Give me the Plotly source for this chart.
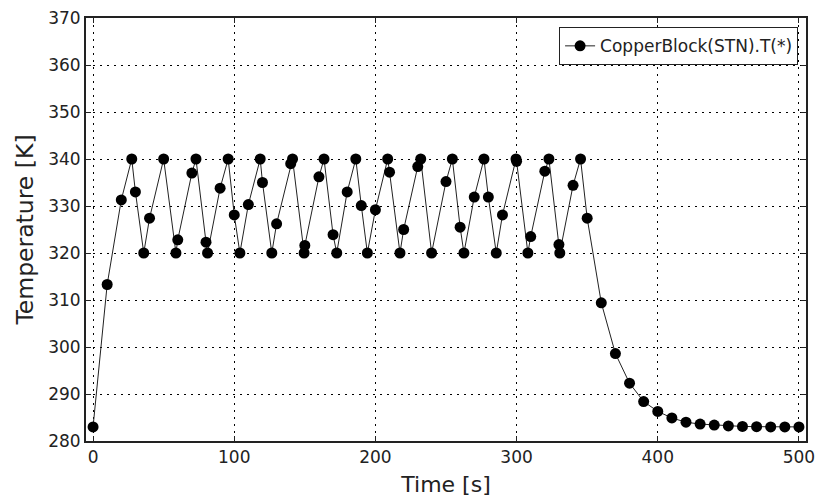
import plotly.graph_objects as go

# Data
time_s = [0, 10, 20, 27.4, 30, 35.9, 40, 50, 58.7, 60,
          70, 72.9, 80, 81.1, 90, 95.7, 100, 104, 110, 118.4,
          120, 126.6, 130, 140, 141.3, 149.5, 150, 160, 163.6, 170,
          172.6, 180, 186.1, 190, 194.3, 200, 208.7, 210, 217.4, 220,
          230, 232.1, 239.8, 250, 254.5, 260, 262.7, 270, 276.9, 280,
          285.6, 290, 299.6, 300, 308, 310, 320, 322.9, 330, 330.6,
          340, 345.3, 350,
          360, 370, 380, 390, 400, 410, 420, 430, 440, 450, 460, 470, 480, 490, 500]
temperature_K = [283.0, 313.3, 331.3, 340, 333.0, 320, 327.4, 340, 320, 322.8,
                 337.0, 340, 322.3, 320, 333.8, 340, 328.1, 320, 330.3, 340,
                 335.0, 320, 326.2, 339.0, 340, 320, 321.6, 336.2, 340, 323.9,
                 320, 333.0, 340, 330.1, 320, 329.2, 340, 337.2, 320, 325.0,
                 338.4, 340, 320, 335.2, 340, 325.5, 320, 331.9, 340, 331.9,
                 320, 328.1, 340, 339.5, 320, 323.5, 337.4, 340, 321.8, 320,
                 334.4, 340, 327.4,
                 309.4, 298.6, 292.3, 288.4, 286.3, 284.9, 284.0, 283.6, 283.4, 283.2,
                 283.1, 283.05, 283.0, 283.0, 283.0]

series_name = "CopperBlock(STN).T(*)"
x_ticks = [0, 100, 200, 300, 400, 500]
y_ticks = [280, 290, 300, 310, 320, 330, 340, 350, 360, 370]

FONT = "DejaVu Sans"

fig = go.Figure()
fig.add_trace(go.Scatter(
    x=time_s, y=temperature_K, name=series_name,
    mode="lines+markers",
    line=dict(color="#222222", width=1),
    marker=dict(color="black", size=11, symbol="circle"),
))

axis_common = dict(
    showline=True, linecolor="#222222", linewidth=2, mirror="allticks",
    ticks="inside", ticklen=5, tickwidth=1, tickcolor="#222222",
    showgrid=True, gridcolor="black", gridwidth=1, griddash="2px,5px",
    zeroline=False, ticklabeloverflow="allow",
    tickfont=dict(family=FONT, size=17, color="#222222"),
)

fig.update_xaxes(
    range=[-5, 505], tickvals=x_ticks,
    title=dict(text="Time [s]", font=dict(family=FONT, size=22, color="#222222"), standoff=10),
    **axis_common,
)
fig.update_yaxes(
    range=[280, 370], tickvals=y_ticks,
    title=dict(text="Temperature [K]", font=dict(family=FONT, size=23.5, color="#222222"), standoff=8),
    **axis_common,
)

fig.update_layout(
    width=818, height=500,
    margin=dict(l=86, r=12, t=18, b=59, autoexpand=False),
    plot_bgcolor="white", paper_bgcolor="white",
    showlegend=True,
    legend=dict(
        x=0.989, y=0.978, xanchor="right", yanchor="top",
        bordercolor="#222222", borderwidth=1, bgcolor="white",
        font=dict(family=FONT, size=17, color="#222222"),
    ),
    font=dict(family=FONT),
)

# remove the default page margin so the 818x500 figure fills the window exactly
fig.write_html(
    "out.html",
    config={"displayModeBar": False},
    post_script="document.body.style.margin='0';document.body.style.overflow='hidden';",
)
